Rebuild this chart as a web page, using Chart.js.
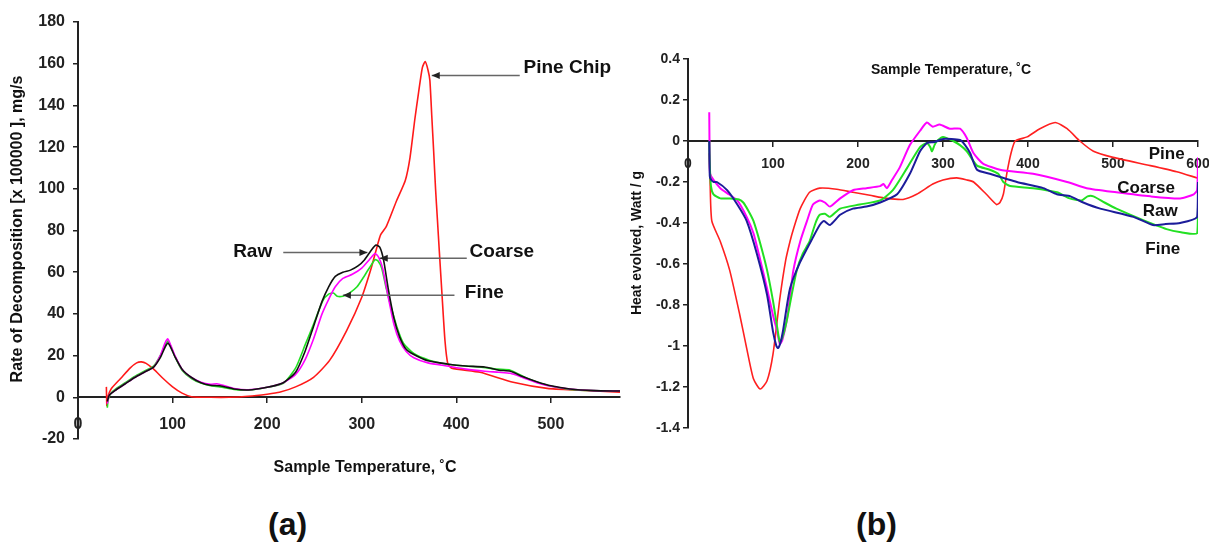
<!DOCTYPE html>
<html>
<head>
<meta charset="utf-8">
<script src="https://cdn.jsdelivr.net/npm/chart.js@4.4.1/dist/chart.umd.min.js"></script>
<style>
  html, body { margin: 0; padding: 0; background: #fff; overflow: hidden; }
  #wrap { position: relative; width: 1209px; height: 550px; }
  #chartA { position: absolute; left: 0; top: 0; }
  #chartB { position: absolute; left: 600px; top: 0; }
  .tag { position: absolute; top: 506px; font: bold 32px "Liberation Sans", Arial, sans-serif; color: #111; }
</style>
</head>
<body>
<div id="wrap">
  <canvas id="chartA" width="640" height="480"></canvas>
  <canvas id="chartB" width="609" height="480"></canvas>
  <div class="tag" style="left:268px">(a)</div>
  <div class="tag" style="left:856px">(b)</div>
</div>
<script>
// (a) rate of decomposition [x 100000], mg/s  vs sample temperature (C)
const pineRate = [[30,5],[30.5,-4],[31.5,0],[35,4],[45,9],[55,14],[62,16.5],[67,17],[72,16.3],[80,13.5],[90,9],[100,5],[110,2],[120,0.3],[140,0],[160,0],[180,0.5],[200,1.5],[213,2.4],[230,5],[249,9.6],[266,17.7],[284,32],[300,48],[310,62],[316,72],[320,78],[326,82],[337,94.5],[346,104],[351,115],[356,133],[360,146],[364,158],[367,161],[370,157],[372,152],[374,135],[376,118],[378,100],[380,85],[382,70],[385,48],[388,27],[391,16],[395,14],[425,12],[460,7.2],[496,4.3],[531,3.4],[573,2.4]];
const rawRate = [[31,-2],[33,1],[40,3.5],[50,6.5],[60,9.5],[70,12],[80,14.5],[87,19],[92,24],[95,26],[98,24],[103,19],[110,13.5],[120,9.5],[130,7],[140,5.8],[150,5.5],[165,4],[180,3.5],[200,4.8],[217,7],[230,12],[240,22],[249,34],[258,46],[265,53],[272,58],[280,60],[288,61],[296,63],[303,66],[310,70.5],[315,73],[319,72],[323,66],[328,52],[334,38],[340,29],[347,23],[355,20.5],[370,17.5],[390,16],[410,15],[430,14.5],[445,13],[457,12.5],[470,10],[485,7.5],[500,5.5],[520,4],[545,3.2],[573,3]];
const coarseRate = [[31,-3],[33,1],[40,3.5],[50,6.5],[60,9.5],[70,12],[80,14.5],[87,20],[92,26],[95,28],[98,25],[103,19.5],[110,13.5],[120,9.5],[130,7.2],[140,6.2],[147,6.5],[155,5.5],[165,4.2],[180,3.6],[200,4.8],[217,7],[230,11],[240,18],[249,28],[258,40],[265,47],[272,53],[280,57],[290,59],[300,62],[308,66],[314,69],[318,67],[322,62],[328,48],[334,35],[340,27],[347,22],[355,19],[370,16.5],[390,15],[410,13.5],[430,12.5],[445,12],[457,11.5],[470,9.5],[485,7],[500,5.3],[520,4],[545,3.2],[573,3]];
const fineRate = [[31,-5],[32,-1],[35,2],[40,4],[50,7],[60,10],[70,12.5],[80,15],[87,20],[92,25],[95,27],[98,24.5],[103,19],[110,13],[120,9],[130,6.8],[140,5.5],[150,5],[165,3.8],[180,3.4],[200,4.8],[217,6.7],[230,14],[240,25],[249,35],[259,46.5],[265,49.5],[270,50],[274,48.5],[280,48.5],[287,50],[295,53],[301,57],[308,62],[314,66],[317,65.5],[321,62],[326,52],[330,45],[337,34],[344,26],[355,21],[372,17.7],[390,16],[410,15],[425,14.5],[443,13.5],[457,13],[475,9],[496,5.8],[520,3.8],[545,3.2],[573,3]];

// (b) heat evolved, Watt / g  vs sample temperature (C)
const pineHeat = [[25,-0.06],[26,-0.2],[28,-0.39],[38,-0.49],[49,-0.63],[61,-0.85],[69,-1.01],[77,-1.16],[85,-1.21],[93,-1.17],[100,-1.04],[108,-0.77],[115,-0.58],[120,-0.49],[124,-0.43],[132,-0.33],[143,-0.25],[155,-0.23],[175,-0.235],[194,-0.25],[214,-0.265],[234,-0.28],[253,-0.285],[269,-0.26],[288,-0.21],[300,-0.19],[316,-0.18],[328,-0.19],[336,-0.2],[351,-0.26],[363,-0.31],[367,-0.3],[371,-0.26],[375,-0.16],[380,-0.06],[385,0],[399,0.02],[414,0.06],[432,0.09],[446,0.06],[461,0],[477,-0.05],[500,-0.08],[544,-0.12],[575,-0.15],[599,-0.18]];
const rawHeat = [[25,0],[25.5,-0.15],[26,-0.18],[30,-0.2],[34,-0.2],[46,-0.24],[58,-0.31],[69,-0.39],[81,-0.55],[93,-0.75],[100,-0.93],[104,-1.0],[106,-1.01],[109,-0.98],[112,-0.92],[120,-0.72],[132,-0.59],[147,-0.47],[155,-0.41],[160,-0.39],[167,-0.41],[179,-0.36],[194,-0.33],[210,-0.32],[226,-0.3],[246,-0.26],[261,-0.16],[273,-0.05],[281,-0.01],[290,-0.005],[300,0.01],[320,0.005],[326,-0.02],[332,-0.06],[340,-0.14],[355,-0.16],[387,-0.2],[418,-0.23],[434,-0.26],[450,-0.27],[465,-0.3],[485,-0.33],[524,-0.37],[547,-0.41],[562,-0.405],[579,-0.4],[599,-0.37],[600,-0.2]];
const coarseHeat = [[25,0.14],[25.5,-0.1],[26,-0.16],[30,-0.19],[38,-0.23],[48,-0.26],[58,-0.29],[69,-0.37],[77,-0.45],[85,-0.58],[93,-0.72],[100,-0.85],[105,-0.93],[108,-0.99],[111,-0.97],[116,-0.88],[120,-0.76],[124,-0.63],[132,-0.49],[140,-0.39],[147,-0.31],[155,-0.29],[161,-0.3],[167,-0.32],[179,-0.28],[194,-0.24],[210,-0.23],[226,-0.22],[230,-0.21],[234,-0.23],[240,-0.19],[249,-0.13],[261,-0.02],[273,0.05],[281,0.09],[288,0.07],[296,0.08],[308,0.06],[320,0.06],[328,0.015],[336,-0.06],[347,-0.11],[367,-0.14],[406,-0.16],[446,-0.2],[469,-0.23],[504,-0.25],[544,-0.27],[579,-0.28],[595,-0.26],[599,-0.24],[600,-0.08]];
const fineHeat = [[25,0],[25.5,-0.1],[27,-0.22],[30,-0.26],[38,-0.28],[49,-0.28],[60,-0.285],[65,-0.3],[71,-0.34],[77,-0.39],[85,-0.5],[93,-0.63],[100,-0.78],[105,-0.91],[108,-0.98],[111,-0.96],[116,-0.88],[122,-0.75],[128,-0.63],[135,-0.55],[143,-0.49],[150,-0.4],[155,-0.36],[161,-0.355],[167,-0.37],[179,-0.33],[202,-0.31],[226,-0.29],[241,-0.24],[258,-0.13],[273,-0.03],[281,-0.01],[285,-0.03],[287,-0.05],[290,-0.02],[293,0],[300,0.02],[312,0],[320,-0.02],[328,-0.05],[340,-0.12],[355,-0.14],[365,-0.16],[371,-0.2],[379,-0.22],[406,-0.23],[434,-0.25],[449,-0.28],[463,-0.29],[470,-0.27],[477,-0.27],[490,-0.3],[504,-0.33],[532,-0.38],[563,-0.43],[580,-0.445],[599,-0.45],[600,-0.32]];

// labels drawn on the plots, anchored in data units
const notesA = [['Pine Chip', 471, 158], ['Raw', 164, 70], ['Coarse', 414, 70], ['Fine', 409, 50]];
const arrowsA = [[467, 154.4, 374, 154.4], [217, 69.5, 306, 69.5], [411, 66.7, 319, 66.7], [398, 48.9, 280, 48.9]];
const notesB = [['Pine', 542, -0.063], ['Coarse', 505, -0.229], ['Raw', 535, -0.341], ['Fine', 538, -0.527]];

const FONT = '"Liberation Sans", Arial, sans-serif';
Chart.defaults.font.family = FONT;
Chart.defaults.color = '#222';

// text + arrow overlay
const notesPlugin = {
  id: 'notes',
  afterDatasetsDraw(chart, args, opts) {
    const ctx = chart.ctx;
    const sx = chart.scales.x, sy = chart.scales.y;
    ctx.save();
    (opts.arrows || []).forEach(a => {
      const x1 = sx.getPixelForValue(a[0]), y1 = sy.getPixelForValue(a[1]);
      const x2 = sx.getPixelForValue(a[2]), y2 = sy.getPixelForValue(a[3]);
      ctx.strokeStyle = '#666';
      ctx.lineWidth = 1.5;
      ctx.beginPath(); ctx.moveTo(x1, y1); ctx.lineTo(x2, y2); ctx.stroke();
      const dir = Math.sign(x2 - x1);
      ctx.fillStyle = '#222';
      ctx.beginPath();
      ctx.moveTo(x2, y2);
      ctx.lineTo(x2 - dir * 8, y2 - 3.5);
      ctx.lineTo(x2 - dir * 8, y2 + 3.5);
      ctx.closePath(); ctx.fill();
    });
    ctx.fillStyle = '#111';
    ctx.textBaseline = 'middle';
    ctx.textAlign = 'left';
    ctx.font = 'bold ' + opts.size + 'px ' + FONT;
    (opts.texts || []).forEach(t => {
      ctx.fillText(t[0], sx.getPixelForValue(t[1]), sy.getPixelForValue(t[2]));
    });
    // axis titles
    ctx.textAlign = 'center';
    const xt = opts.xTitle, yt = opts.yTitle;
    ctx.font = 'bold ' + xt.size + 'px ' + FONT;
    ctx.fillText(xt.text, xt.x, xt.y);
    ctx.translate(yt.x, yt.y);
    ctx.rotate(-Math.PI / 2);
    ctx.font = 'bold ' + yt.size + 'px ' + FONT;
    ctx.fillText(yt.text, 0, 0);
    ctx.restore();
  }
};

function line(data, color, width) {
  return {
    data: data.map(p => ({ x: p[0], y: p[1] })),
    borderColor: color,
    backgroundColor: color,
    borderWidth: width,
    showLine: true,
    pointRadius: 0,
    tension: 0.2
  };
}

function axes(xMax, yMin, yMax, yStep, yWidth, tickSize, yPad, xPad) {
  return {
    x: {
      type: 'linear',
      min: 0, max: xMax,
      position: { y: 0 },
      ticks: { stepSize: 100, font: { size: tickSize, weight: 'bold' }, color: '#222', padding: xPad, maxRotation: 0 },
      grid: { drawOnChartArea: false, tickLength: 5, color: '#222', lineWidth: 1.5 },
      border: { color: '#222', width: 2 },
      afterBuildTicks: s => { s.ticks = s.ticks.filter(t => t.value % 100 === 0); },
      afterFit: s => { s.height = 0; s.paddingLeft = 0; s.paddingRight = 0; }
    },
    y: {
      type: 'linear',
      min: yMin, max: yMax,
      ticks: { stepSize: yStep, font: { size: tickSize, weight: 'bold' }, color: '#222', padding: yPad,
               callback: v => String(Number(v.toFixed(1))) },
      grid: { drawOnChartArea: false, tickLength: 5, color: '#222', lineWidth: 1.5 },
      border: { color: '#222', width: 2 },
      afterFit: s => { s.width = yWidth; s.paddingTop = 0; s.paddingBottom = 0; }
    }
  };
}

new Chart(document.getElementById('chartA'), {
  type: 'scatter',
  data: {
    datasets: [
      line(rawRate, '#111111', 1.6),
      line(coarseRate, '#ff00ff', 1.6),
      line(fineRate, '#22e022', 1.6),
      line(pineRate, '#ff1a1a', 1.6)
    ]
  },
  options: {
    responsive: false,
    animation: false,
    devicePixelRatio: 1,
    layout: { padding: { left: 0, right: 20, top: 22, bottom: 41 } },
    scales: axes(573, -20, 180, 20, 78, 16, 8, 13),
    plugins: {
      legend: { display: false },
      tooltip: { enabled: false },
      notes: {
        size: 19,
        texts: notesA,
        arrows: arrowsA,
        xTitle: { text: 'Sample Temperature, \u02DAC', x: 365, y: 468, size: 16 },
        yTitle: { text: 'Rate of Decomposition [x 100000 ], mg/s', x: 18, y: 229, size: 16 }
      }
    }
  },
  plugins: [notesPlugin]
});

new Chart(document.getElementById('chartB'), {
  type: 'scatter',
  data: {
    datasets: [
      line(rawHeat, '#1c1c9a', 2),
      line(fineHeat, '#22e022', 2),
      line(coarseHeat, '#ff00ff', 2),
      line(pineHeat, '#ff2020', 1.6)
    ]
  },
  options: {
    responsive: false,
    animation: false,
    devicePixelRatio: 1,
    layout: { padding: { left: 0, right: 11, top: 59, bottom: 52 } },
    scales: axes(600, -1.4, 0.4, 0.2, 88, 14, 3, 10),
    plugins: {
      legend: { display: false },
      tooltip: { enabled: false },
      notes: {
        size: 17,
        texts: notesB,
        arrows: [],
        xTitle: { text: 'Sample Temperature, \u02DAC', x: 351, y: 70, size: 14 },
        yTitle: { text: 'Heat evolved, Watt / g', x: 37, y: 243, size: 14 }
      }
    }
  },
  plugins: [notesPlugin]
});
</script>
</body>
</html>
